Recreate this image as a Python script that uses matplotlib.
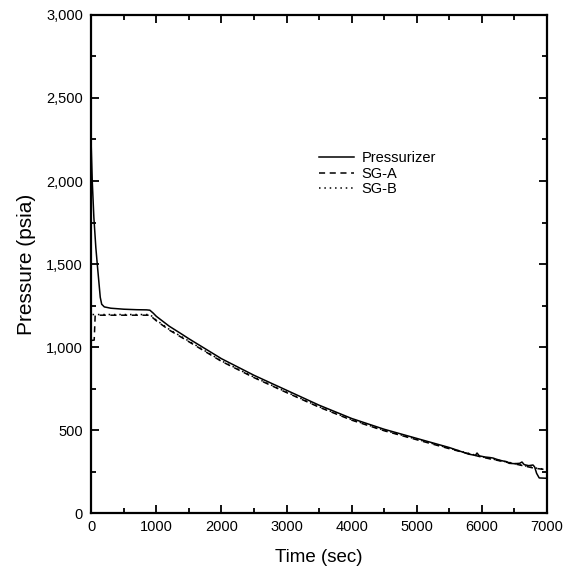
import matplotlib
matplotlib.use("Agg")
import matplotlib.pyplot as plt
from matplotlib.ticker import MultipleLocator, FuncFormatter

# Pressurizer pressure (psia)
t_pzr = [0, 15, 40, 70, 92, 115, 138, 160, 200, 300, 500, 700, 850, 900, 950, 1000, 1200,
         1366, 1500, 2000, 2500, 3000, 3500, 4000, 4500, 5000, 5500, 5800, 5900, 5925,
         5960, 6050, 6120, 6170, 6220, 6280, 6350, 6380, 6420, 6500, 6580, 6615, 6650,
         6720, 6785, 6810, 6840, 6880, 7000]
p_pzr = [2200, 2000, 1780, 1600, 1500, 1400, 1300, 1258, 1242, 1234, 1228, 1225, 1224, 1222,
         1205, 1185, 1125, 1084, 1050, 930, 830, 740, 650, 570, 505, 450, 395, 355, 348, 362,
         345, 338, 335, 332, 325, 318, 312, 310, 300, 298, 300, 308, 292,
         286, 290, 278, 240, 212, 210]

# SG-A pressure (psia)
t_sga = [0, 45, 60, 100, 300, 500, 700, 900, 950, 1000, 1200, 1500, 2000, 2500, 3000,
         3500, 4000, 4500, 5000, 5500, 6000, 6500, 6800, 7000]
p_sga = [1040, 1042, 1190, 1192, 1192, 1192, 1192, 1192, 1175, 1158, 1102, 1032, 914, 816,
         726, 638, 560, 496, 442, 388, 337, 297, 271, 261]

# SG-B pressure (psia)
t_sgb = [20, 100, 300, 500, 700, 900, 950, 1000, 1200, 1500, 2000, 2500, 3000, 3500,
         4000, 4500, 5000, 5500, 6000, 6500, 6800, 7000]
p_sgb = [1196, 1196, 1196, 1196, 1196, 1196, 1180, 1162, 1106, 1036, 917, 819, 729, 641,
         563, 499, 445, 391, 339, 299, 273, 263]

plt.rcParams["font.family"] = ["Liberation Sans", "DejaVu Sans"]

fig, ax = plt.subplots(figsize=(5.74, 5.74), dpi=100)
fig.subplots_adjust(left=0.159, right=0.953, top=0.974, bottom=0.106)

ax.plot(t_pzr, p_pzr, color="black", linewidth=1.1, linestyle="-", label="Pressurizer")
ax.plot(t_sga, p_sga, color="black", linewidth=1.1, linestyle=(0, (4, 3)), label="SG-A")
ax.plot(t_sgb, p_sgb, color="black", linewidth=1.1, linestyle=(0, (1, 2.5)), label="SG-B")

ax.set_xlim(0, 7000)
ax.set_ylim(0, 3000)
ax.xaxis.set_major_locator(MultipleLocator(1000))
ax.xaxis.set_minor_locator(MultipleLocator(500))
ax.yaxis.set_major_locator(MultipleLocator(500))
ax.yaxis.set_minor_locator(MultipleLocator(250))
ax.yaxis.set_major_formatter(FuncFormatter(lambda v, p: f"{int(v):,}"))

ax.tick_params(which="both", direction="in", top=True, right=True, labelsize=10.5, width=1.3)
ax.tick_params(which="major", length=6)
ax.tick_params(which="minor", length=3.5)
ax.tick_params(axis="y", which="major", pad=6)
ax.tick_params(axis="x", which="major", pad=5)
for s in ax.spines.values():
    s.set_linewidth(1.6)

ax.set_xlabel("Time (sec)", fontsize=13.5, labelpad=11)
ax.set_ylabel("Pressure (psia)", fontsize=15, labelpad=7)

ax.legend(loc="upper left", bbox_to_anchor=(0.5, 0.727), frameon=False, fontsize=10.5,
          handlelength=2.4, labelspacing=0.12, handletextpad=0.5, borderpad=0,
          borderaxespad=0)

plt.savefig("out.png", dpi=100)
plt.close(fig)
